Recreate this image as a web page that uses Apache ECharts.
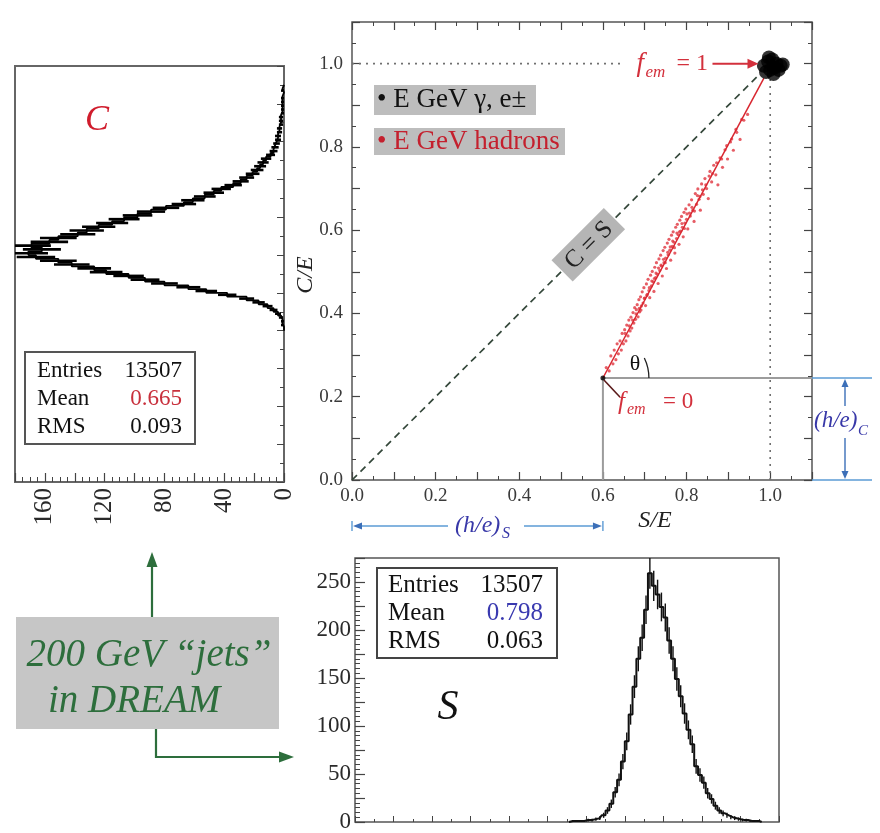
<!DOCTYPE html>
<html>
<head>
<meta charset="utf-8">
<title>DREAM: Čerenkov vs. scintillation signals for 200 GeV jets</title>
<script src="https://cdn.jsdelivr.net/npm/echarts/dist/echarts.min.js"></script>
<style>
  html, body { margin: 0; padding: 0; background: #fff; }
  #chart { width: 880px; height: 833px; }
</style>
</head>
<body>
<div id="chart"></div>
<script>
// ---------- data ----------
// Čerenkov signal (C/E) histogram: bin centres and counts (bin width 0.01)
const cCenters = [0.405,0.415,0.425,0.435,0.445,0.455,0.465,0.475,0.485,0.495,
  0.505,0.515,0.525,0.535,0.545,0.555,0.565,0.575,0.585,0.595,
  0.605,0.615,0.625,0.635,0.645,0.655,0.665,0.675,0.685,0.695,
  0.705,0.715,0.725,0.735,0.745,0.755,0.765,0.775,0.785,0.795,
  0.805,0.815,0.825,0.835,0.845,0.855,0.865,0.875,0.885,0.895,
  0.905,0.915,0.925,0.935,0.945,0.955,0.965,0.975,0.985,0.995,
  1.005,1.015,1.025,1.035,1.045];
const cCounts = [0,1,1,2,4,7,11,17,25,38,
  52,64,80,93,104,119,127,142,151,166,
  171,162,169,157,151,138,132,124,115,107,
  98,89,79,67,61,53,47,42,34,29,
  25,21,18,16,14,12,9,7,6,5,
  4,4,3,3,2,2,2,1,1,1,
  1,1,0,1,0];
const cBinWidth = 0.01;

// Scintillation signal (S/E) histogram: bin centres and counts
const sCenters = [0.555,0.565,0.575,0.585,0.595,0.605,0.615,0.625,0.635,0.645,
  0.655,0.665,0.675,0.685,0.695,0.705,0.715,0.725,0.735,0.745,
  0.755,0.765,0.775,0.785,0.795,0.805,0.815,0.825,0.835,0.845,
  0.855,0.865,0.875,0.885,0.895,0.905,0.915,0.925,0.935,0.945,
  0.955,0.965,0.975,0.985,0.995,1.005,1.015,1.025,1.035,1.045,1.055];
const sCounts = [0,1,1,1,1,2,2,3,4,7,
  12,19,31,44,63,84,112,141,170,192,
  221,259,246,237,224,213,189,170,149,131,
  113,96,81,58,49,41,30,24,17,12,
  9,7,5,4,3,2,2,1,1,1,0];

// Hadron events in the (S/E, C/E) plane
const hadronEvents = [
  [0.608,0.270],[0.615,0.262],[0.619,0.298],[0.624,0.279],[0.627,0.312],[0.631,0.289],[0.634,0.327],[0.637,0.303],
  [0.641,0.334],[0.644,0.312],[0.646,0.352],[0.649,0.327],[0.652,0.361],[0.655,0.334],[0.657,0.372],[0.660,0.346],
  [0.662,0.384],[0.665,0.358],[0.667,0.391],[0.669,0.365],[0.672,0.402],[0.674,0.377],[0.676,0.414],[0.678,0.386],
  [0.680,0.409],[0.682,0.421],[0.684,0.392],[0.686,0.433],[0.688,0.404],[0.690,0.440],[0.692,0.418],[0.694,0.452],
  [0.696,0.425],[0.698,0.462],[0.700,0.437],[0.702,0.419],[0.704,0.471],[0.706,0.446],[0.708,0.482],[0.710,0.455],
  [0.712,0.438],[0.714,0.492],[0.716,0.466],[0.718,0.501],[0.720,0.476],[0.722,0.453],[0.724,0.511],[0.726,0.486],
  [0.728,0.522],[0.730,0.494],[0.732,0.472],[0.734,0.531],[0.736,0.503],[0.738,0.540],[0.740,0.514],[0.742,0.490],
  [0.744,0.551],[0.746,0.522],[0.748,0.559],[0.750,0.533],[0.752,0.508],[0.754,0.569],[0.756,0.541],[0.758,0.578],
  [0.760,0.552],[0.762,0.528],[0.764,0.588],[0.766,0.561],[0.768,0.596],[0.770,0.571],[0.772,0.545],[0.774,0.607],
  [0.776,0.580],[0.778,0.614],[0.780,0.589],[0.782,0.566],[0.784,0.624],[0.786,0.598],[0.788,0.633],[0.790,0.607],
  [0.792,0.584],[0.794,0.643],[0.796,0.617],[0.798,0.651],[0.800,0.626],[0.803,0.603],[0.806,0.661],[0.809,0.634],
  [0.812,0.673],[0.815,0.648],[0.818,0.621],[0.821,0.688],[0.824,0.662],[0.827,0.699],[0.830,0.674],[0.833,0.648],
  [0.836,0.711],[0.840,0.686],[0.844,0.724],[0.848,0.700],[0.852,0.676],[0.856,0.741],[0.860,0.716],[0.865,0.756],
  [0.870,0.733],[0.875,0.709],[0.880,0.774],[0.886,0.751],[0.892,0.793],[0.898,0.771],[0.905,0.812],[0.912,0.792],
  [0.920,0.835],[0.928,0.818],[0.937,0.864],[0.946,0.878],
  [0.653,0.352],[0.663,0.370],[0.671,0.384],[0.679,0.399],[0.687,0.412],[0.691,0.408],[0.699,0.436],[0.705,0.443],
  [0.711,0.462],[0.717,0.478],[0.723,0.484],[0.727,0.497],[0.733,0.509],[0.739,0.516],[0.745,0.530],[0.749,0.522],
  [0.755,0.547],[0.761,0.560],[0.767,0.574],[0.771,0.558],[0.777,0.593],[0.783,0.596],[0.789,0.616],[0.795,0.604],
  [0.801,0.639],[0.807,0.641],[0.813,0.655],[0.819,0.646],[0.826,0.683],[0.832,0.681],[0.838,0.697],[0.846,0.709],
  [0.854,0.730],[0.862,0.736],[0.872,0.762],[0.884,0.771],[0.896,0.803],[0.908,0.819],[0.918,0.842],[0.932,0.866]
];

// Electron / gamma events (all at C/E = S/E = 1)
const emEvents = [[0.985,0.995],[0.995,1.005],[1.005,1.010],[1.015,1.000],[1.025,0.995],[0.990,0.980],
  [1.000,0.985],[1.010,0.990],[1.020,0.985],[1.030,0.998],[0.997,1.015],[1.008,0.975]];

// Characteristic points and reference lines
const fem0 = [0.6, 0.245];          // f_em = 0 : (h/e)_S , (h/e)_C
const fem1 = [1.0, 1.0];            // f_em = 1
const hadronLine = [[0.6, 0.245], [0.985, 0.965]];
const diagonal = [[0, 0], [0.975, 0.975]];

// Tick labels
const ratioTickLabels = ['0.0', '0.2', '0.4', '0.6', '0.8', '1.0'];
const cCountTickLabels = ['0', '40', '80', '120', '160'];
const sCountTickLabels = ['0', '50', '100', '150', '200', '250'];

// Statistics boxes
const statsC = { entries: '13507', mean: '0.665', rms: '0.093' };
const statsS = { entries: '13507', mean: '0.798', rms: '0.063' };

// ---------- styling ----------
const SERIF = '"Liberation Serif", "DejaVu Serif", serif';
const AX = '#444';
const RED = '#d3303c';
const BLUE_TXT = '#3838a8';
const BLUE_LN = '#5b9bd5';
const GREEN = '#2d6e3c';

const ratioLabel = v => {
  const k = Math.round(v * 10);
  return (k % 2 === 0 && ratioTickLabels[k / 2] !== undefined) ? ratioTickLabels[k / 2] : '';
};
const cCountLabel = v => (v % 40 === 0 && cCountTickLabels[v / 40] !== undefined) ? cCountTickLabels[v / 40] : '';
const sCountLabel = v => (v % 50 === 0 && sCountTickLabels[v / 50] !== undefined) ? sCountTickLabels[v / 50] : '';

function valAxis(o) {
  return Object.assign({
    type: 'value',
    axisLine: { show: false, onZero: false },
    splitLine: { show: false },
    axisTick: { show: true, inside: true, length: 8, lineStyle: { color: AX, width: 1.2 } },
    minorTick: { show: true, splitNumber: 2, length: 4, lineStyle: { color: AX, width: 1 } },
    axisLabel: { show: false }
  }, o);
}

// ---------- histogram outlines built from the bins ----------
const cStep = [[0, cCenters[0] - cBinWidth / 2]];
cCenters.forEach((c, i) => {
  cStep.push([cCounts[i], c - cBinWidth / 2]);
  cStep.push([cCounts[i], c + cBinWidth / 2]);
});
cStep.push([0, cCenters[cCenters.length - 1] + cBinWidth / 2]);

const gridBase = { show: true, borderColor: '#555', borderWidth: 1.5, backgroundColor: 'transparent', containLabel: false, outerBoundsMode: 'none' };

const option = {
  animation: false,
  backgroundColor: '#fff',
  grid: [
    Object.assign({ left: 352, top: 22, width: 460, height: 458 }, gridBase),
    Object.assign({ left: 15, top: 66, width: 269, height: 416 }, gridBase, { borderColor: '#666', borderWidth: 2 }),
    Object.assign({ left: 355, top: 558, width: 424, height: 264 }, gridBase)
  ],
  xAxis: [
    valAxis({ gridIndex: 0, position: 'bottom', min: 0, max: 1.1, interval: 0.1,
      axisLabel: { show: true, interval: 0, formatter: ratioLabel, fontFamily: SERIF, fontSize: 19, color: '#3a3a3a', margin: 7 } }),
    valAxis({ gridIndex: 0, position: 'top', min: 0, max: 1.1, interval: 0.1 }),
    valAxis({ gridIndex: 1, position: 'bottom', min: 0, max: 180, interval: 20, inverse: true,
      axisTick: { show: true, inside: true, length: 9, lineStyle: { color: AX, width: 1.2 } },
      minorTick: { show: true, splitNumber: 4, length: 5, lineStyle: { color: AX } },
      axisLabel: { show: true, interval: 0, rotate: 90, formatter: cCountLabel, fontFamily: SERIF, fontSize: 25, color: '#2a2a2a', margin: 6 } }),
    valAxis({ gridIndex: 2, position: 'bottom', min: 0, max: 1.1, interval: 0.1,
      axisTick: { show: true, inside: true, length: 6, lineStyle: { color: AX } },
      minorTick: { show: true, splitNumber: 2, length: 3, lineStyle: { color: AX } } })
  ],
  yAxis: [
    valAxis({ gridIndex: 0, position: 'left', min: 0, max: 1.1, interval: 0.1,
      axisLabel: { show: true, interval: 0, formatter: ratioLabel, fontFamily: SERIF, fontSize: 19, color: '#3a3a3a', margin: 9 } }),
    valAxis({ gridIndex: 0, position: 'right', min: 0, max: 1.1, interval: 0.1 }),
    valAxis({ gridIndex: 1, position: 'right', min: 0, max: 1.1, interval: 0.1,
      axisTick: { show: true, inside: true, length: 7, lineStyle: { color: AX } },
      minorTick: { show: true, splitNumber: 2, length: 4, lineStyle: { color: AX } } }),
    valAxis({ gridIndex: 2, position: 'left', min: 0, max: 275, interval: 25,
      axisTick: { show: true, inside: true, length: 10, lineStyle: { color: AX, width: 1.2 } },
      minorTick: { show: true, splitNumber: 5, length: 5, lineStyle: { color: AX } },
      axisLabel: { show: true, interval: 0, formatter: sCountLabel, fontFamily: SERIF, fontSize: 23, color: '#2a2a2a', margin: 4 } })
  ],
  series: [
    // C = S diagonal
    { type: 'line', xAxisIndex: 0, yAxisIndex: 0, data: diagonal, symbol: 'none', silent: true,
      lineStyle: { color: '#34473a', width: 1.7, type: [7, 5] }, z: 3 },
    // f_em = 1 reference lines (dotted)
    { type: 'line', xAxisIndex: 0, yAxisIndex: 0, data: [[0, fem1[1]], [0.65, fem1[1]]], symbol: 'none', silent: true,
      lineStyle: { color: '#707070', width: 1.6, type: [2, 5] }, z: 2 },
    { type: 'line', xAxisIndex: 0, yAxisIndex: 0, data: [[fem1[0], 0], [fem1[0], 0.962]], symbol: 'none', silent: true,
      lineStyle: { color: '#707070', width: 1.6, type: [2, 5] }, z: 2 },
    // (h/e)_S and (h/e)_C guide lines
    { type: 'line', xAxisIndex: 0, yAxisIndex: 0, data: [[fem0[0], 0], fem0, [1.1, fem0[1]]], symbol: 'none', silent: true,
      lineStyle: { color: '#9c9c9c', width: 2 }, z: 2 },
    // hadron events
    { type: 'scatter', xAxisIndex: 0, yAxisIndex: 0, data: hadronEvents, symbolSize: 3.2,
      itemStyle: { color: '#e0343e' }, z: 4 },
    // hadron trend line
    { type: 'line', xAxisIndex: 0, yAxisIndex: 0, data: hadronLine, symbol: 'none', silent: true,
      lineStyle: { color: '#d8262f', width: 1.5 }, z: 5 },
    // electron / gamma events
    { type: 'scatter', xAxisIndex: 0, yAxisIndex: 0, data: emEvents, symbolSize: 14,
      itemStyle: { color: '#000' }, z: 6 },
    // f_em = 0 point
    { type: 'scatter', xAxisIndex: 0, yAxisIndex: 0, data: [fem0], symbolSize: 5,
      itemStyle: { color: '#000' }, z: 6 },

    // C/E histogram (rotated) outline
    { type: 'line', xAxisIndex: 2, yAxisIndex: 2, data: cStep, symbol: 'none', silent: true,
      lineStyle: { color: '#000', width: 1.8 }, z: 3 },
    // C/E histogram error bars
    { type: 'custom', xAxisIndex: 2, yAxisIndex: 2, silent: true, clip: true, z: 4,
      data: cCenters.map((c, i) => [cCounts[i], c]),
      renderItem(params, api) {
        const n = api.value(0), c = api.value(1);
        if (n <= 0) return;
        const e = Math.sqrt(n);
        const a = api.coord([Math.max(0, n - e), c]), b = api.coord([n + e, c]);
        return { type: 'line', shape: { x1: a[0], y1: a[1], x2: b[0], y2: b[1] },
          style: { stroke: '#000', lineWidth: 2.6 } };
      } },

    // S/E histogram outline
    { type: 'line', xAxisIndex: 3, yAxisIndex: 3, step: 'middle', symbol: 'none', silent: true,
      data: sCenters.map((s, i) => [s, sCounts[i]]),
      lineStyle: { color: '#111', width: 2 }, z: 3 },
    // S/E histogram error bars
    { type: 'custom', xAxisIndex: 3, yAxisIndex: 3, silent: true, clip: true, z: 4,
      data: sCenters.map((s, i) => [s, sCounts[i]]),
      renderItem(params, api) {
        const s = api.value(0), n = api.value(1);
        if (n <= 0) return;
        const e = Math.sqrt(n);
        const a = api.coord([s, Math.max(0, n - e)]), b = api.coord([s, n + e]);
        return { type: 'line', shape: { x1: a[0], y1: a[1], x2: b[0], y2: b[1] },
          style: { stroke: '#111', lineWidth: 1.4 } };
      } }
  ]
};

const chart = echarts.init(document.getElementById('chart'), null, { renderer: 'canvas' });
chart.setOption(option);

// ---------- annotations ----------
const P = v => chart.convertToPixel({ xAxisIndex: 0, yAxisIndex: 0 }, v);

function txt(x, y, text, size, color, opts) {
  opts = opts || {};
  const align = opts.align || 'left';
  const valign = opts.valign || 'middle';
  return {
    type: 'text', x: x, y: y, z: 100, rotation: opts.rotation || 0,
    style: {
      text: text, fill: color,
      font: (opts.italic ? 'italic ' : '') + (opts.bold ? 'bold ' : '') + size + 'px ' + SERIF,
      align: align, textAlign: align, verticalAlign: valign, textVerticalAlign: valign
    }
  };
}
function seg(a, b, color, width) {
  return { type: 'line', z: 100, shape: { x1: a[0], y1: a[1], x2: b[0], y2: b[1] },
    style: { stroke: color, lineWidth: width } };
}
function head(tip, from, color, len, half) {
  const dx = tip[0] - from[0], dy = tip[1] - from[1];
  const L = Math.hypot(dx, dy), ux = dx / L, uy = dy / L;
  const bx = tip[0] - ux * len, by = tip[1] - uy * len;
  return { type: 'polygon', z: 101,
    shape: { points: [tip, [bx - uy * half, by + ux * half], [bx + uy * half, by - ux * half]] },
    style: { fill: color } };
}
function box(x, y, w, h, fill, stroke, lw) {
  return { type: 'rect', z: 99, shape: { x: x, y: y, width: w, height: h },
    style: { fill: fill, stroke: stroke || null, lineWidth: lw || 0 } };
}

const g = [];

// axis titles of the scatter plot
g.push(txt(306, 275, 'C/E', 24, '#222', { italic: true, align: 'center', rotation: Math.PI / 2 }));
g.push(txt(655, 521, 'S/E', 24, '#222', { italic: true, align: 'center' }));

// legend boxes
g.push(box(374, 85, 162, 30, '#bdbdbd'));
g.push(txt(377, 100, '\u2022 E GeV \u03b3, e\u00b1', 27, '#111'));
g.push(box(374, 128, 191, 27, '#bdbdbd'));
g.push(txt(377, 142, '\u2022 E GeV hadrons', 27, '#c4202e'));

// C = S label on the diagonal
const cs = P([0.565, 0.565]);
g.push({ type: 'group', x: cs[0], y: cs[1], rotation: Math.PI / 4, z: 100, children: [
  { type: 'rect', z: 100, shape: { x: -37, y: -15, width: 74, height: 30 }, style: { fill: '#b5b5b5' } },
  { type: 'text', z: 101, style: { text: 'C = S', x: 0, y: 1, fill: '#222', font: '25px ' + SERIF,
      align: 'center', textAlign: 'center', verticalAlign: 'middle', textVerticalAlign: 'middle' } }
] });

// f_em = 1 with arrow to the e/gamma cluster
const a1s = P([0.862, fem1[1]]), a1e = P([0.972, fem1[1]]);
g.push(txt(a1s[0] - 76, a1s[1], 'f', 27, RED, { italic: true }));
g.push(txt(a1s[0] - 67, a1s[1] + 9, 'em', 17, RED, { italic: true }));
g.push(txt(a1s[0] - 36, a1s[1], '= 1', 24, RED));
g.push(seg(a1s, [a1e[0] - 8, a1e[1]], RED, 2));
g.push(head(a1e, a1s, RED, 11, 5));

// f_em = 0 label with pointer
const p0 = P(fem0);
g.push(seg([p0[0] + 1, p0[1] + 2], [p0[0] + 17, p0[1] + 19], '#5a1a1a', 1.6));
g.push(txt(p0[0] + 15, p0[1] + 24, 'f', 25, RED, { italic: true }));
g.push(txt(p0[0] + 24, p0[1] + 32, 'em', 16, RED, { italic: true }));
g.push(txt(p0[0] + 60, p0[1] + 24, '= 0', 23, RED));

// angle theta
g.push({ type: 'arc', z: 100, shape: { cx: p0[0], cy: p0[1], r: 46, startAngle: -0.45, endAngle: 0, clockwise: true },
  style: { stroke: '#222', lineWidth: 1.3, fill: null } });
g.push(txt(p0[0] + 32, p0[1] - 14, '\u03b8', 22, '#111', { align: 'center' }));

// (h/e)_C dimension outside the right frame
const rTop = P([1.1, fem0[1]]), rBot = P([1.1, 0]);
g.push(seg([rTop[0], rTop[1]], [rTop[0] + 60, rTop[1]], BLUE_LN, 1.6));
g.push(seg([rBot[0], rBot[1]], [rBot[0] + 60, rBot[1]], BLUE_LN, 1.6));
const vx = rTop[0] + 33;
g.push(seg([vx, rTop[1] + 8], [vx, rTop[1] + 28], '#3c6fb8', 1.4));
g.push(head([vx, rTop[1] + 1], [vx, rTop[1] + 28], '#3c6fb8', 8, 3.5));
g.push(seg([vx, rBot[1] - 42], [vx, rBot[1] - 8], '#3c6fb8', 1.4));
g.push(head([vx, rBot[1] - 1], [vx, rBot[1] - 42], '#3c6fb8', 8, 3.5));
g.push(txt(rTop[0] + 2, (rTop[1] + rBot[1]) / 2 - 8, '(h/e)', 23, BLUE_TXT, { italic: true }));
g.push(txt(rTop[0] + 46, (rTop[1] + rBot[1]) / 2 + 2, 'C', 15, BLUE_TXT, { italic: true }));

// (h/e)_S dimension below the x axis
const sL = P([0, 0]), sR = P([fem0[0], 0]);
const ys = sL[1] + 46;
g.push(seg([sL[0], ys - 5], [sL[0], ys + 5], BLUE_LN, 1.4));
g.push(seg([sR[0], ys - 5], [sR[0], ys + 5], BLUE_LN, 1.4));
g.push(seg([sL[0] + 6, ys], [sL[0] + 96, ys], BLUE_LN, 1.6));
g.push(head([sL[0] + 1, ys], [sL[0] + 40, ys], '#3c6fb8', 9, 3.5));
g.push(seg([sL[0] + 172, ys], [sR[0] - 6, ys], BLUE_LN, 1.6));
g.push(head([sR[0] - 1, ys], [sR[0] - 40, ys], '#3c6fb8', 9, 3.5));
g.push(txt(sL[0] + 103, ys, '(h/e)', 24, BLUE_TXT, { italic: true }));
g.push(txt(sL[0] + 150, ys + 8, 'S', 16, BLUE_TXT, { italic: true }));

// C histogram: title and statistics
g.push(txt(97, 121, 'C', 36, '#d01c2c', { italic: true, align: 'center' }));
g.push(box(25, 352, 170, 92, '#fff', '#555', 2));
g.push(txt(37, 371, 'Entries', 23, '#111'));
g.push(txt(182, 371, statsC.entries, 23, '#111', { align: 'right' }));
g.push(txt(37, 399, 'Mean', 23, '#111'));
g.push(txt(182, 399, statsC.mean, 23, '#c8303c', { align: 'right' }));
g.push(txt(37, 427, 'RMS', 23, '#111'));
g.push(txt(182, 427, statsC.rms, 23, '#111', { align: 'right' }));

// S histogram: title and statistics
g.push(txt(448, 708, 'S', 42, '#111', { italic: true, align: 'center' }));
g.push(box(377, 568, 180, 90, '#fff', '#444', 2));
g.push(txt(388, 585, 'Entries', 25, '#111'));
g.push(txt(543, 585, statsS.entries, 25, '#111', { align: 'right' }));
g.push(txt(388, 613, 'Mean', 25, '#111'));
g.push(txt(543, 613, statsS.mean, 25, '#3a3ab0', { align: 'right' }));
g.push(txt(388, 641, 'RMS', 25, '#111'));
g.push(txt(543, 641, statsS.rms, 25, '#111', { align: 'right' }));

// caption box with arrows to both projections
g.push(box(16, 617, 263, 112, '#c6c6c6'));
g.push(txt(149, 656, '200 GeV \u201cjets\u201d', 39, GREEN, { italic: true, align: 'center' }));
g.push(txt(48, 702, 'in DREAM', 39, GREEN, { italic: true }));
g.push(seg([152, 617], [152, 566], GREEN, 2.2));
g.push(head([152, 552], [152, 617], GREEN, 15, 5.5));
g.push({ type: 'polyline', z: 100, shape: { points: [[156, 729], [156, 757], [280, 757]] },
  style: { stroke: GREEN, lineWidth: 2.2, fill: null } });
g.push(head([294, 757], [156, 757], GREEN, 15, 5.5));

chart.setOption({ graphic: { elements: g } });
</script>
</body>
</html>
